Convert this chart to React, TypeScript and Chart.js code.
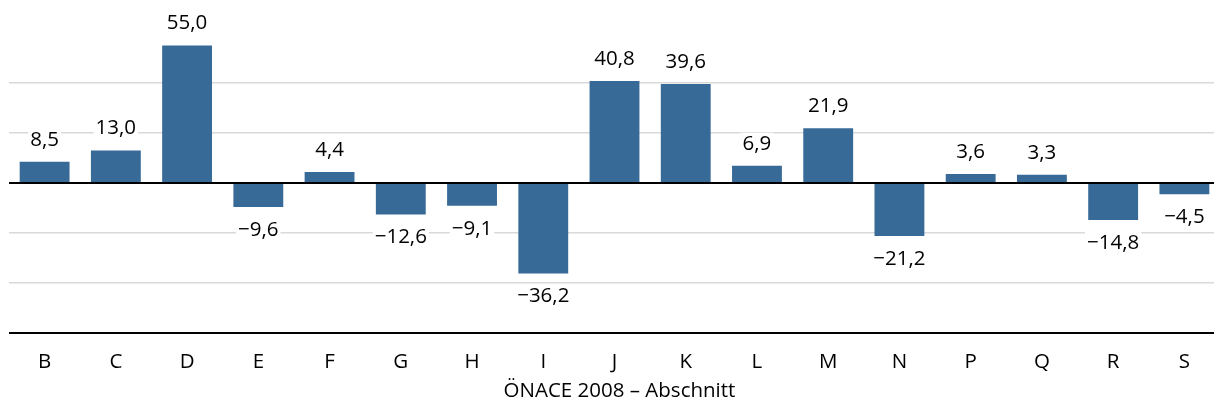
import React, { useEffect, useRef } from "react";
import { Chart, registerables } from "chart.js";

Chart.register(...registerables);

const categories = ["B", "C", "D", "E", "F", "G", "H", "I", "J", "K", "L", "M", "N", "P", "Q", "R", "S"];
const values = [8.5, 13.0, 55.0, -9.6, 4.4, -12.6, -9.1, -36.2, 40.8, 39.6, 6.9, 21.9, -21.2, 3.6, 3.3, -14.8, -4.5];
const axisTitle = "ÖNACE 2008 – Abschnitt";

const FONT = "'Open Sans', sans-serif";

function fmt(v: number): string {
  const s = Math.abs(v).toFixed(1).replace(".", ",");
  return v < 0 ? "\u2212" + s : s;
}

const labelPlugin = {
  id: "valueLabels",
  afterDatasetsDraw(chart: any) {
    const ctx = chart.ctx;
    const meta = chart.getDatasetMeta(0);
    ctx.save();
    ctx.font = `20.5px ${FONT}`;
    ctx.textAlign = "center";
    ctx.textBaseline = "middle";
    meta.data.forEach((el: any, i: number) => {
      const v = values[i];
      const txt = fmt(v);
      const y = v >= 0 ? el.y - 22 : el.y + 23;
      const w = ctx.measureText(txt).width;
      ctx.fillStyle = "#ffffff";
      ctx.fillRect(el.x - w / 2 - 2, y - 11, w + 4, 22);
      ctx.fillStyle = "#000000";
      ctx.fillText(txt, el.x, y);
    });
    ctx.font = `20.5px ${FONT}`;
    const ca = chart.chartArea;
    ctx.fillText(axisTitle, (ca.left + ca.right) / 2 + 5, 391);
    ctx.restore();
  },
};

export default function App() {
  const ref = useRef<HTMLCanvasElement>(null);
  useEffect(() => {
    document.body.style.margin = "0";
    const chart = new Chart(ref.current!, {
      type: "bar",
      data: {
        labels: categories,
        datasets: [
          {
            data: values,
            backgroundColor: "#386a97",
            barPercentage: 0.7,
            categoryPercentage: 1,
          },
        ],
      },
      options: {
        animation: false,
        responsive: false,
        layout: { padding: { left: 9, right: 0, top: 33, bottom: 0 } },
        plugins: { legend: { display: false }, tooltip: { enabled: false } },
        scales: {
          x: {
            grid: { display: false },
            border: { display: false },
            ticks: { color: "#000", font: { family: FONT, size: 20.5 }, padding: 9 },
            afterFit: (scale: any) => {
              scale.height = 74;
            },
          },
          y: {
            min: -60,
            max: 60,
            ticks: { display: false, stepSize: 20 },
            border: { display: false },
            grid: {
              drawTicks: false,
              color: (c: any) => {
                const v = c.tick && c.tick.value;
                if (v === 60) return "rgba(0,0,0,0)";
                if (v === 0 || v === -60) return "#000000";
                return "#d9d9d9";
              },
              lineWidth: (c: any) => {
                const v = c.tick && c.tick.value;
                return v === 0 || v === -60 ? 2 : 1.5;
              },
            },
            afterFit: (scale: any) => {
              scale.width = 0;
            },
          },
        },
      },
      plugins: [labelPlugin],
    });
    return () => chart.destroy();
  }, []);
  return (
    <div style={{ width: 1214, height: 407, overflow: "hidden" }}>
      <canvas ref={ref} width={1220} height={407} style={{ display: "block" }} />
    </div>
  );
}
